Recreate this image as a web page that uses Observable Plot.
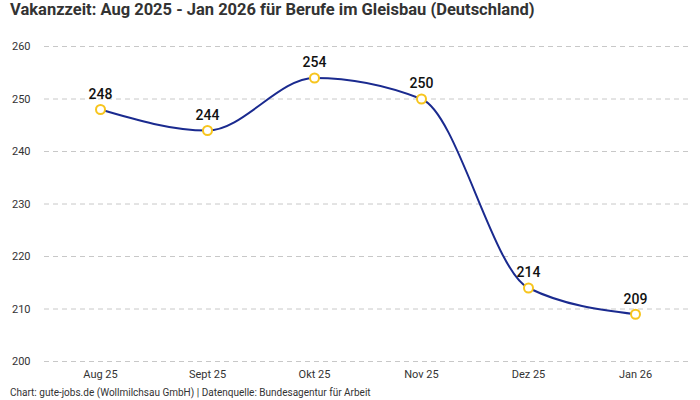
<!DOCTYPE html>
<html>
<head>
<meta charset="utf-8">
<script src="https://cdn.jsdelivr.net/npm/d3@7"></script>
<script src="https://cdn.jsdelivr.net/npm/@observablehq/plot@0.6"></script>
<style>
  body { margin: 0; background: #fff; font-family: Roboto, "Noto Sans", sans-serif; }
  #title { font-size: 16.5px; font-weight: 700; color: #333; padding-left: 10px; height: 22px; line-height: 20px; white-space: nowrap; }
  #chart { height: 362px; }
  #caption { font-size: 10px; color: #333; padding-left: 10px; line-height: 12px; margin-top: 3px; }
</style>
</head>
<body>
<div id="title">Vakanzzeit: Aug 2025 - Jan 2026 für Berufe im Gleisbau (Deutschland)</div>
<div id="chart"></div>
<div id="caption">Chart: gute-jobs.de (Wollmilchsau GmbH) | Datenquelle: Bundesagentur für Arbeit</div>
<script>
const months = ["Aug 25", "Sept 25", "Okt 25", "Nov 25", "Dez 25", "Jan 26"];
const values = [248, 244, 254, 250, 214, 209];
const yTicks = [200, 210, 220, 230, 240, 250, 260];

const data = months.map((m, i) => ({month: m, value: values[i]}));

const chart = Plot.plot({
  width: 700,
  height: 362,
  marginTop: 24,
  marginBottom: 23,
  marginLeft: 44,
  marginRight: 10,
  style: {fontFamily: "Roboto, 'Noto Sans', sans-serif", fontSize: "11px", color: "#333"},
  x: {type: "point", domain: months, padding: 0.5, label: null},
  y: {domain: [200, 260], label: null},
  marks: [
    Plot.gridY(yTicks, {stroke: "#c8c8c8", strokeOpacity: 1, strokeDasharray: "5,4"}),
    Plot.axisY(yTicks, {tickSize: 0, tickPadding: 14, fontSize: 11, fill: "#333", label: null}),
    Plot.axisX({tickSize: 0, tickPadding: 9, fontSize: 11, fill: "#333", label: null}),
    Plot.line(data, {x: "month", y: "value", curve: "monotone-x", stroke: "#1a2a8f", strokeWidth: 2}),
    Plot.dot(data, {x: "month", y: "value", r: 4.5, fill: "#fff", stroke: "#f7c51e", strokeWidth: 2}),
    Plot.text(data, {x: "month", y: "value", text: d => String(d.value), dy: -15, fontSize: 14, fontWeight: 500, fill: "#111"})
  ]
});
document.getElementById("chart").appendChild(chart);
</script>
</body>
</html>
